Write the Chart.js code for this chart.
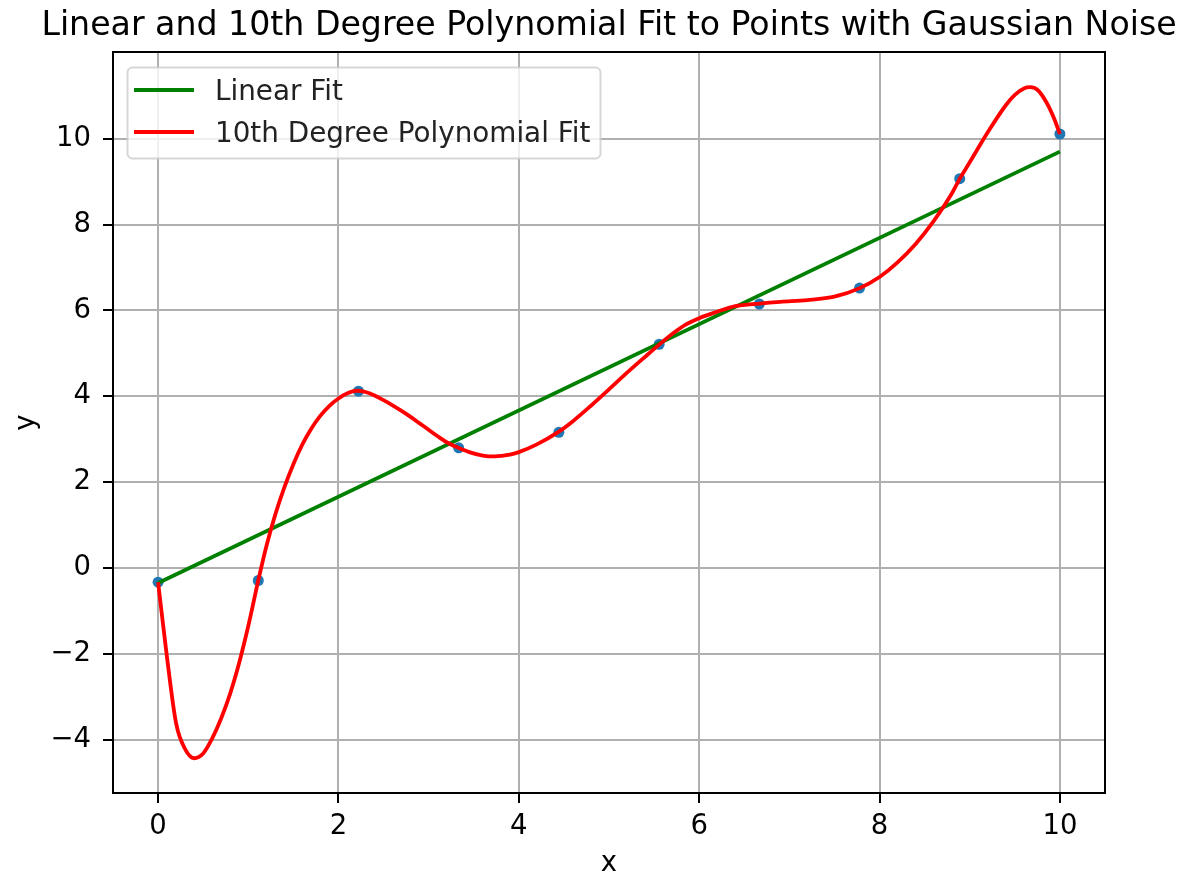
<!DOCTYPE html>
<html>
<head>
  <title>Linear and 10th Degree Polynomial Fit</title>
  <script src="https://cdn.jsdelivr.net/npm/chart.js@4.4.0/dist/chart.umd.min.js"></script>
  <style>body { margin: 0; background: #fff; }</style>
</head>
<body>
  <canvas id="myChart" width="1183" height="875"></canvas>
  <script>
    // noisy sample points
    const pointX = [0, 1.111, 2.222, 3.333, 4.444, 5.556, 6.667, 7.778, 8.889, 10];
    const pointY = [-0.33, -0.29, 4.12, 2.80, 3.16, 5.21, 6.15, 6.52, 9.07, 10.11];

    // linear fit
    const linX = [0, 10];
    const linY = [-0.35, 9.70];

    // 10th degree polynomial fit
    const polyX = [0, 0.1, 0.2, 0.3, 0.4, 0.5, 0.6, 0.7, 0.8, 0.9, 1.0, 1.11, 1.2, 1.3, 1.4, 1.5, 1.6, 1.7, 1.8, 1.9,
      2.0, 2.1, 2.2, 2.3, 2.4, 2.5, 2.6, 2.7, 2.8, 2.9, 3.0, 3.1, 3.2, 3.33, 3.45, 3.6, 3.73, 3.9, 4.0, 4.2,
      4.44, 4.6, 4.8, 5.0, 5.2, 5.4, 5.56, 5.7, 5.85, 6.0, 6.2, 6.4, 6.67, 6.9, 7.2, 7.5, 7.78, 8.0, 8.2, 8.4,
      8.6, 8.8, 8.89, 9.0, 9.2, 9.4, 9.5, 9.6, 9.67, 9.75, 9.85, 9.93, 10];
    const polyY = [-0.33, -2.1, -3.62, -4.22, -4.43, -4.32, -3.97, -3.5, -2.92, -2.2, -1.35, -0.30, 0.5, 1.25, 1.88, 2.42, 2.88, 3.25, 3.55, 3.78,
      3.95, 4.07, 4.13, 4.10, 4.02, 3.91, 3.79, 3.66, 3.52, 3.37, 3.22, 3.07, 2.93, 2.80, 2.70, 2.62, 2.60, 2.64, 2.70, 2.88,
      3.17, 3.42, 3.78, 4.16, 4.55, 4.92, 5.21, 5.45, 5.67, 5.82, 5.97, 6.10, 6.16, 6.20, 6.24, 6.32, 6.52, 6.78, 7.12, 7.55,
      8.08, 8.72, 9.07, 9.45, 10.15, 10.78, 11.02, 11.17, 11.20, 11.14, 10.85, 10.5, 10.11];

    const xTicks = [0, 2, 4, 6, 8, 10];
    const yTicks = [-4, -2, 0, 2, 4, 6, 8, 10];

    const titleText = 'Linear and 10th Degree Polynomial Fit to Points with Gaussian Noise';
    const linLabel = 'Linear Fit';
    const polyLabel = '10th Degree Polynomial Fit';

    const FONT = 'DejaVu Sans';
    const SIZE = 27.5;
    const fmt = v => v < 0 ? '\u2212' + Math.abs(v) : String(v);

    // axes box, legend and title drawn on top like matplotlib
    const extras = {
      id: 'extras',
      afterDatasetsDraw(chart) {
        const ctx = chart.ctx;
        const a = chart.chartArea;
        ctx.save();
        ctx.strokeStyle = '#000';
        ctx.lineWidth = 2;
        ctx.strokeRect(a.left, a.top, a.right - a.left, a.bottom - a.top);

        // legend
        ctx.beginPath();
        ctx.roundRect(127.5, 67.5, 473, 91, 5);
        ctx.fillStyle = 'rgba(255,255,255,0.8)';
        ctx.fill();
        ctx.strokeStyle = 'rgba(204,204,204,0.8)';
        ctx.lineWidth = 2;
        ctx.stroke();

        const rows = [[linLabel, '#008000', 90, 100], [polyLabel, '#ff0000', 132, 142]];
        ctx.lineWidth = 3.8;
        ctx.font = '27.8px "' + FONT + '"';
        ctx.textAlign = 'left';
        ctx.textBaseline = 'alphabetic';
        rows.forEach(r => {
          ctx.strokeStyle = r[1];
          ctx.beginPath();
          ctx.moveTo(134, r[2]);
          ctx.lineTo(194, r[2]);
          ctx.stroke();
          ctx.fillStyle = '#222';
          ctx.fillText(r[0], 215, r[3]);
        });

        // title
        ctx.fillStyle = '#000';
        ctx.font = '33.2px "' + FONT + '"';
        ctx.textAlign = 'center';
        ctx.fillText(titleText, (a.left + a.right) / 2, 35);
        ctx.restore();
      }
    };

    var ctx = document.getElementById('myChart').getContext('2d');
    var myChart = new Chart(ctx, {
      type: 'scatter',
      data: {
        datasets: [{
          label: polyLabel,
          data: polyX.map((x, i) => ({ x: x, y: polyY[i] })),
          showLine: true,
          borderColor: '#ff0000',
          borderWidth: 3.8,
          pointRadius: 0,
          cubicInterpolationMode: 'monotone',
          order: 1
        }, {
          label: linLabel,
          data: linX.map((x, i) => ({ x: x, y: linY[i] })),
          showLine: true,
          borderColor: '#008000',
          borderWidth: 3.8,
          pointRadius: 0,
          order: 2
        }, {
          label: 'points',
          data: pointX.map((x, i) => ({ x: x, y: pointY[i] })),
          backgroundColor: '#1f77b4',
          borderWidth: 0,
          pointRadius: 5.5,
          order: 3
        }]
      },
      options: {
        responsive: false,
        animation: false,
        devicePixelRatio: 1,
        events: [],
        layout: { padding: { left: 0, top: 52, right: 78, bottom: 0 } },
        plugins: {
          legend: { display: false },
          tooltip: { enabled: false },
          title: { display: false }
        },
        scales: {
          x: {
            type: 'linear',
            min: -0.5,
            max: 10.5,
            afterBuildTicks: s => { s.ticks = xTicks.map(v => ({ value: v })); },
            afterFit: s => { s.height = 82; },
            grid: { color: '#b0b0b0', lineWidth: 2, tickColor: '#000', tickWidth: 2, tickLength: 10 },
            border: { display: false },
            ticks: { color: '#000', padding: 7, maxRotation: 0, font: { family: FONT, size: SIZE }, callback: fmt },
            title: { display: true, text: 'x', color: '#000', font: { family: FONT, size: SIZE }, padding: { top: 0, bottom: -5 } }
          },
          y: {
            type: 'linear',
            min: -5.24,
            max: 12.02,
            afterBuildTicks: s => { s.ticks = yTicks.map(v => ({ value: v })); },
            afterFit: s => { s.width = 113; },
            grid: { color: '#b0b0b0', lineWidth: 2, tickColor: '#000', tickWidth: 2, tickLength: 10 },
            border: { display: false },
            ticks: { color: '#000', padding: 12, font: { family: FONT, size: SIZE }, callback: fmt },
            title: { display: true, text: 'y', color: '#000', font: { family: FONT, size: SIZE }, padding: { top: 10, bottom: 0 } }
          }
        }
      },
      plugins: [extras]
    });
  </script>
</body>
</html>
